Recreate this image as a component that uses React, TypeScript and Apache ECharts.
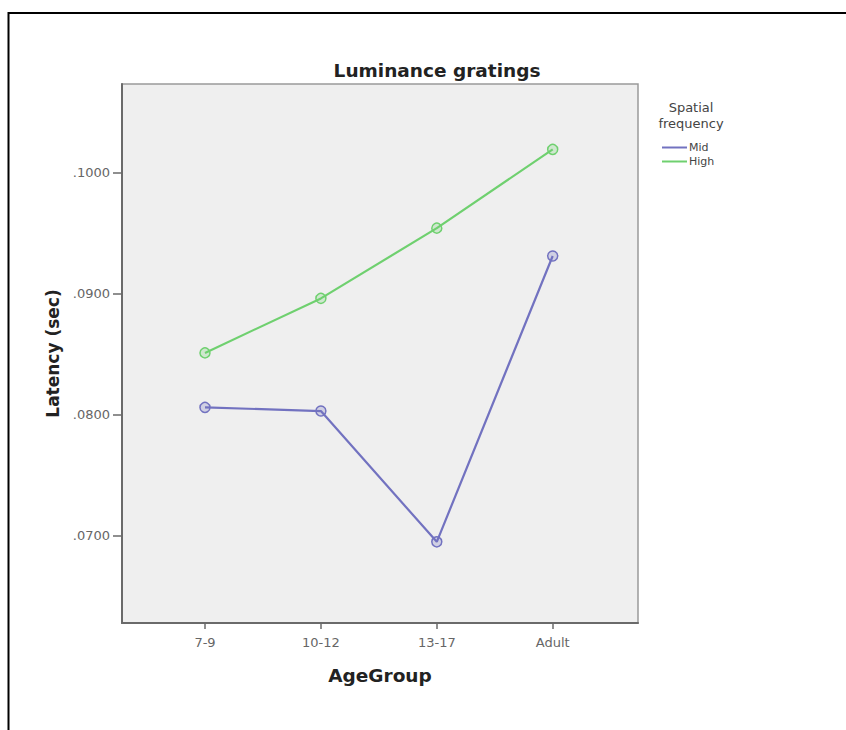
import React, { useEffect, useRef } from "react";
import * as echarts from "echarts";

const categories = ["7-9", "10-12", "13-17", "Adult"];
const midValues = [0.0806, 0.0803, 0.0695, 0.0931];
const highValues = [0.0851, 0.0896, 0.0954, 0.1019];
const yTicks = [0.07, 0.08, 0.09, 0.1];
const xTicks = [0, 1, 2, 3];

const MID_COLOR = "#7272c0";
const HIGH_COLOR = "#6fd06f";
const FONT = "'DejaVu Sans', sans-serif";

export default function App() {
  const ref = useRef<HTMLDivElement>(null);
  useEffect(() => {
    if (!ref.current) return;
    const chart = echarts.init(ref.current, undefined, { renderer: "svg" });
    const toPts = (arr: number[]) => arr.map((v, i) => [i, v]);
    chart.setOption({
      animation: false,
      backgroundColor: "#ffffff",
      textStyle: { fontFamily: FONT },
      title: [
        {
          text: "Luminance gratings",
          left: 432,
          top: 56,
          textAlign: "center",
          textStyle: { fontSize: 18.5, fontWeight: "bold", color: "#222", fontFamily: FONT },
        },
        {
          text: "Spatial\nfrequency",
          left: 686,
          top: 94,
          textAlign: "center",
          textStyle: { fontSize: 13, fontWeight: "normal", color: "#444", lineHeight: 16, fontFamily: FONT },
        },
      ],
      legend: {
        orient: "vertical",
        left: 657,
        top: 137,
        itemWidth: 25,
        itemHeight: 2,
        itemGap: 3,
        icon: "rect",
        textStyle: { fontSize: 11, color: "#444", fontFamily: FONT, padding: [0, 0, 0, -3] },
        data: [
          { name: "Mid", itemStyle: { color: MID_COLOR, borderWidth: 0 } },
          { name: "High", itemStyle: { color: HIGH_COLOR, borderWidth: 0 } },
        ],
      },
      grid: {
        left: 122,
        top: 84,
        width: 516,
        height: 539,
        show: true,
        backgroundColor: "#efefef",
        borderColor: "#9a9a9a",
        borderWidth: 1.5,
      },
      xAxis: {
        type: "value",
        min: -0.716,
        max: 3.736,
        name: "AgeGroup",
        nameLocation: "middle",
        nameGap: 43,
        nameTextStyle: { fontSize: 18.5, fontWeight: "bold", color: "#222", fontFamily: FONT },
        axisLine: { show: true, onZero: false, lineStyle: { color: "#6a6a6a", width: 2 } },
        axisTick: { show: true, length: 6, customValues: xTicks, lineStyle: { color: "#6a6a6a", width: 1.5 } },
        axisLabel: {
          customValues: xTicks,
          formatter: (v: number) => categories[Math.round(v)] ?? "",
          fontSize: 13,
          color: "#666",
          margin: 13,
          fontFamily: FONT,
        },
        splitLine: { show: false },
      },
      yAxis: {
        type: "value",
        min: 0.0628,
        max: 0.1073,
        name: "Latency (sec)",
        nameLocation: "middle",
        nameGap: 60,
        nameTextStyle: { fontSize: 17, fontWeight: "bold", color: "#222", fontFamily: FONT },
        axisLine: { show: true, onZero: false, lineStyle: { color: "#6a6a6a", width: 2 } },
        axisTick: { show: true, length: 9, customValues: yTicks, lineStyle: { color: "#6a6a6a", width: 1.5 } },
        axisLabel: {
          customValues: yTicks,
          formatter: (v: number) => v.toFixed(4).replace(/^0/, ""),
          fontSize: 13,
          color: "#666",
          margin: 12,
          fontFamily: FONT,
        },
        splitLine: { show: false },
      },
      series: [
        {
          name: "Mid",
          type: "line",
          data: toPts(midValues),
          symbol: "circle",
          symbolSize: 10,
          lineStyle: { color: MID_COLOR, width: 2.2 },
          itemStyle: { color: "rgba(114,114,192,0.25)", borderColor: MID_COLOR, borderWidth: 1.5 },
        },
        {
          name: "High",
          type: "line",
          data: toPts(highValues),
          symbol: "circle",
          symbolSize: 10,
          lineStyle: { color: HIGH_COLOR, width: 2.2 },
          itemStyle: { color: "rgba(111,208,111,0.25)", borderColor: HIGH_COLOR, borderWidth: 1.5 },
        },
      ],
      graphic: [
        { type: "line", shape: { x1: 8, y1: 13, x2: 846, y2: 13 }, style: { stroke: "#000", lineWidth: 2 } },
        { type: "line", shape: { x1: 8.5, y1: 12, x2: 8.5, y2: 730 }, style: { stroke: "#000", lineWidth: 2 } },
      ],
    });
    return () => chart.dispose();
  }, []);
  return (
    <div
      ref={ref}
      style={{ position: "fixed", left: 0, top: 0, width: 846, height: 730 }}
    />
  );
}
